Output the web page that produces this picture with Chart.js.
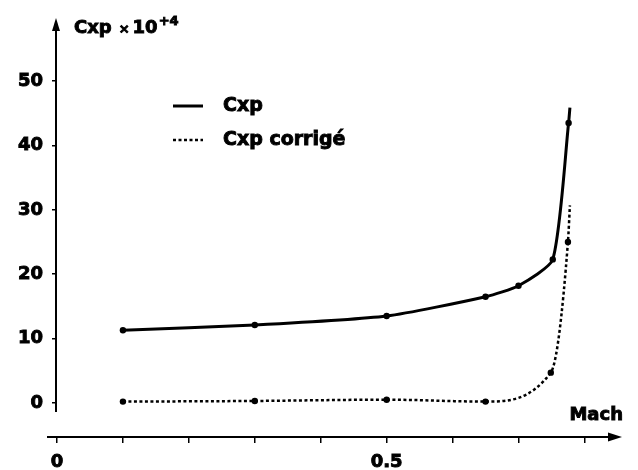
<!DOCTYPE html>
<html>
<head>
<meta charset="utf-8">
<script src="https://cdn.jsdelivr.net/npm/chart.js@4/dist/chart.umd.min.js"></script>
<style>
  html, body { margin: 0; padding: 0; background: #fff; }
  #wrap { width: 638px; height: 470px; position: relative; }
</style>
</head>
<body>
<div id="wrap"><canvas id="c" width="638" height="470"></canvas></div>
<script>
// Mach numbers and drag coefficient (x 10^4), raw and corrected
const machCxp = [0.1, 0.3, 0.5, 0.65, 0.70, 0.752, 0.776, 0.778];
const cxpValues = [11.3, 12.1, 13.5, 16.5, 18.2, 22.3, 43.5, 45.9];
const machCorr = [0.1, 0.3, 0.5, 0.65, 0.749, 0.775, 0.778];
const cxpCorrValues = [0.2, 0.3, 0.5, 0.2, 4.7, 25.0, 30.7];

// Axis ticks and their labels
const xTickValues = [0, 0.1, 0.2, 0.3, 0.4, 0.5, 0.6, 0.7, 0.8];
const xTickLabels = ['0', '', '', '', '', '0.5', '', '', ''];
const yTickValues = [0, 10, 20, 30, 40, 50];

const FONT = '"DejaVu Sans", "Liberation Sans", sans-serif';
const STROKE = 0.9; // extra weight for the heavy lettering

const toPoints = (xs, ys) => xs.map((x, i) => ({ x, y: ys[i] }));
// the last value of each series is the curve's end, drawn without a marker
const markerRadius = ctx => (ctx.dataIndex < ctx.dataset.data.length - 1 ? 3.2 : 0);

function heavyText(ctx, text, x, y) {
  ctx.fillText(text, x, y);
  ctx.strokeText(text, x, y);
}

// Axis arrows, axis captions and the legend
const decorations = {
  id: 'decorations',
  afterDraw(chart) {
    const { ctx, scales } = chart;
    const xs = scales.x, ys = scales.y;
    const x0 = xs.getPixelForValue(0);
    const yBase = chart.chartArea.bottom;
    ctx.save();
    ctx.strokeStyle = '#000';
    ctx.fillStyle = '#000';
    ctx.lineWidth = 2;

    // vertical axis with arrow
    const yAxisBottom = ys.getPixelForValue(0) + 9;
    const yTip = chart.chartArea.top - 2;
    ctx.beginPath();
    ctx.moveTo(x0 - 1, yAxisBottom);
    ctx.lineTo(x0 - 1, yTip + 8);
    ctx.stroke();
    ctx.beginPath();
    ctx.moveTo(x0 - 1, yTip);
    ctx.lineTo(x0 - 5, yTip + 13);
    ctx.lineTo(x0 + 3, yTip + 13);
    ctx.closePath();
    ctx.fill();

    // horizontal axis with arrow
    const xTip = chart.chartArea.right;
    ctx.beginPath();
    ctx.moveTo(x0 - 10, yBase);
    ctx.lineTo(xTip - 8, yBase);
    ctx.stroke();
    ctx.beginPath();
    ctx.moveTo(xTip, yBase);
    ctx.lineTo(xTip - 14, yBase - 4.5);
    ctx.lineTo(xTip - 14, yBase + 4.5);
    ctx.closePath();
    ctx.fill();

    // axis captions
    ctx.lineWidth = STROKE;
    ctx.textBaseline = 'alphabetic';
    ctx.font = 'bold 18px ' + FONT;
    ctx.textAlign = 'left';
    let tx = 74;
    heavyText(ctx, 'Cxp', tx, 33);
    tx += ctx.measureText('Cxp').width + 7;
    ctx.font = 'bold 13px ' + FONT;
    heavyText(ctx, '\u00d7', tx, 33);
    tx += ctx.measureText('\u00d7').width + 3;
    ctx.font = 'bold 18px ' + FONT;
    heavyText(ctx, '10', tx, 33);
    tx += ctx.measureText('10').width + 1;
    ctx.font = 'bold 13px ' + FONT;
    heavyText(ctx, '+4', tx, 25);

    ctx.font = 'bold 18px ' + FONT;
    ctx.textAlign = 'right';
    heavyText(ctx, 'Mach', 623, 420);

    // legend
    const rows = [106, 140];
    chart.data.datasets.forEach((ds, i) => {
      const y = rows[i];
      ctx.save();
      ctx.lineWidth = ds.borderWidth;
      ctx.setLineDash(ds.borderDash || []);
      ctx.beginPath();
      ctx.moveTo(173, y);
      ctx.lineTo(203, y);
      ctx.stroke();
      ctx.restore();
      ctx.lineWidth = STROKE;
      ctx.font = 'bold 19px ' + FONT;
      ctx.textAlign = 'left';
      ctx.textBaseline = 'middle';
      heavyText(ctx, ds.label, 223, y);
    });
    ctx.restore();
  }
};

const tickFont = { family: FONT, size: 18, weight: 'bold' };

new Chart(document.getElementById('c'), {
  type: 'line',
  data: {
    datasets: [
      {
        label: 'Cxp',
        data: toPoints(machCxp, cxpValues),
        borderColor: '#000',
        backgroundColor: '#000',
        borderWidth: 3,
        pointRadius: markerRadius,
        pointBorderWidth: 0,
        tension: 0.2,
        fill: false
      },
      {
        label: 'Cxp corrigé',
        data: toPoints(machCorr, cxpCorrValues),
        borderColor: '#000',
        backgroundColor: '#000',
        borderWidth: 2.5,
        borderDash: [3, 2.5],
        pointRadius: markerRadius,
        pointBorderWidth: 0,
        cubicInterpolationMode: 'monotone',
        fill: false
      }
    ]
  },
  options: {
    responsive: false,
    animation: false,
    layout: { padding: { top: 20, right: 16, left: 0, bottom: 0 } },
    plugins: {
      legend: { display: false },
      tooltip: { enabled: false }
    },
    scales: {
      x: {
        type: 'linear',
        min: 0,
        max: 0.857,
        afterBuildTicks: s => { s.ticks = xTickValues.map(v => ({ value: v })); },
        afterFit: s => { s.height = 33; },
        ticks: {
          autoSkip: false,
          maxRotation: 0,
          padding: 9,
          color: '#000',
          textStrokeColor: '#000',
          textStrokeWidth: STROKE,
          font: tickFont,
          callback: (v, i) => xTickLabels[i]
        },
        grid: { display: true, drawOnChartArea: false, drawTicks: true, tickLength: 6, color: '#000', lineWidth: 1.5 },
        border: { display: false }
      },
      y: {
        type: 'linear',
        min: -5.3,
        max: 59.5,
        afterBuildTicks: s => { s.ticks = yTickValues.map(v => ({ value: v })); },
        afterFit: s => { s.width = 57; },
        ticks: {
          autoSkip: false,
          padding: 9,
          color: '#000',
          textStrokeColor: '#000',
          textStrokeWidth: STROKE,
          font: tickFont,
          callback: v => String(v)
        },
        grid: { display: true, drawOnChartArea: false, drawTicks: true, tickLength: 5, color: '#000', lineWidth: 1.5 },
        border: { display: false }
      }
    }
  },
  plugins: [decorations]
});
</script>
</body>
</html>
